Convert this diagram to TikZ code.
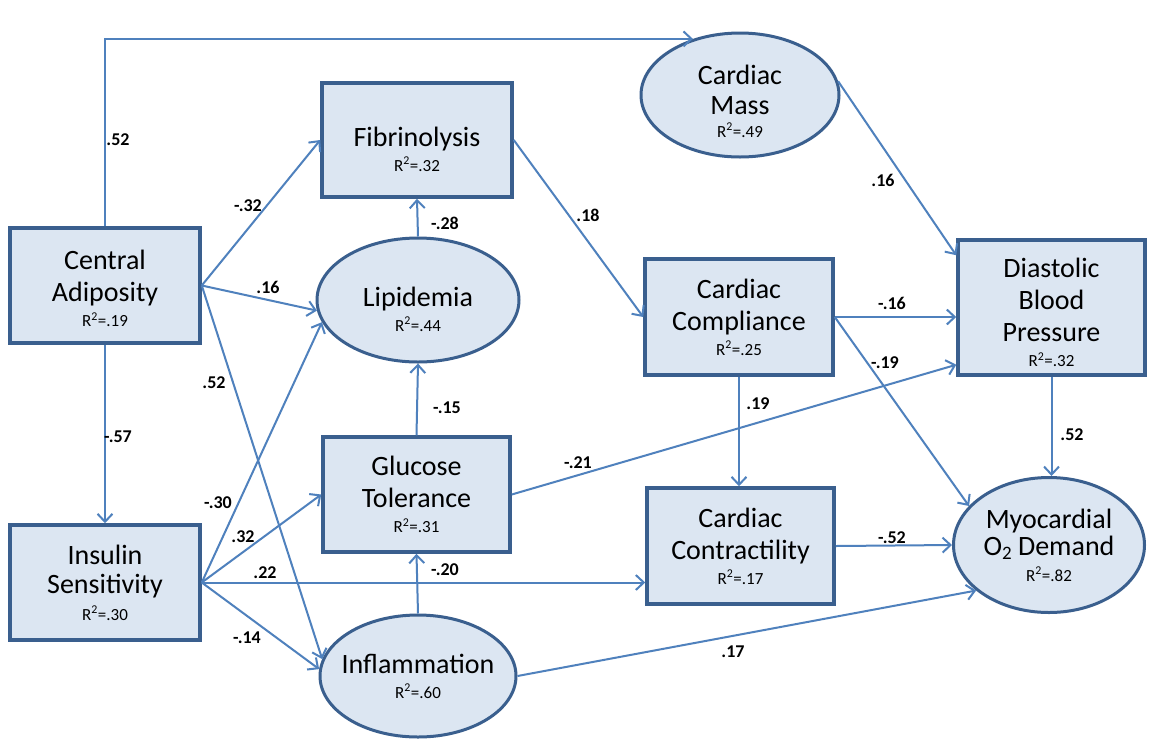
\documentclass[tikz,border=0pt]{standalone}
\usepackage{fontspec}
\setmainfont{Carlito}
\usetikzlibrary{shapes.geometric,arrows.meta,calc}
\definecolor{bordc}{HTML}{3A5F8E}
\definecolor{fillc}{HTML}{DCE6F2}
\definecolor{arrc}{HTML}{4F81BD}
\newcommand\rsqv[1]{{\fontsize{17}{17}\selectfont R\textsuperscript{2}=#1}}
\begin{document}
\begin{tikzpicture}[x=1pt,y=-1pt,
  boxn/.style={draw=bordc, fill=fillc, line width=3.5pt, inner sep=0pt},
  elln/.style={ellipse, draw=bordc, fill=fillc, line width=3pt, inner sep=0pt},
  txt/.style={align=center, font=\fontsize{28}{32}\selectfont, inner sep=0pt},
  arr/.style={draw=arrc, line width=2pt, -{Straight Barb[length=8pt,width=15pt,line width=2pt]}},
  coef/.style={font=\bfseries\fontsize{18}{20}\selectfont, inner sep=0pt}]
\useasboundingbox[fill=white] (0,0) rectangle (1149,740);

% shapes
\node[boxn, minimum width=190, minimum height=115] (ca) at (105,285.5) {};
\node[boxn, minimum width=190, minimum height=115] (ins) at (105,582.5) {};
\node[boxn, minimum width=190, minimum height=114] (fib) at (417,140) {};
\node[boxn, minimum width=187, minimum height=115] (gluc) at (416.5,494.5) {};
\node[boxn, minimum width=188, minimum height=116] (cc) at (739,317) {};
\node[boxn, minimum width=187, minimum height=116] (contr) at (740.5,546) {};
\node[boxn, minimum width=187, minimum height=135] (dbp) at (1051.5,307.5) {};
\node[elln, minimum width=202, minimum height=124] (lip) at (418,300) {};
\node[elln, minimum width=196, minimum height=122] (infl) at (418,676) {};
\node[elln, minimum width=198, minimum height=124] (cm) at (740,95) {};
\node[elln, minimum width=191, minimum height=135] (myo) at (1049,545) {};

% texts
\node[txt, yshift=-3pt] (ca-t) at (ca) {Central\\Adiposity\\[-7pt]\rsqv{.19}};
\node[txt] (ins-t) at (ins) {Insulin\\[-3pt]Sensitivity\\[-5pt]\rsqv{.30}};
\node[txt, yshift=-9pt] (fib-t) at (fib) {Fibrinolysis\\[-7pt]\rsqv{.32}};
\node[txt] (gluc-t) at (gluc) {Glucose\\Tolerance\\[-7pt]\rsqv{.31}};
\node[txt] (cc-t) at (cc) {Cardiac\\Compliance\\[-7pt]\rsqv{.25}};
\node[txt] (contr-t) at (contr) {Cardiac\\Contractility\\[-7pt]\rsqv{.17}};
\node[txt, yshift=-5pt] (dbp-t) at (dbp) {Diastolic\\Blood\\Pressure\\[-7pt]\rsqv{.32}};
\node[txt, yshift=-9pt] (lip-t) at (lip) {Lipidemia\\[-7pt]\rsqv{.44}};
\node[txt] (infl-t) at (infl) {Inflammation\\[-7pt]\rsqv{.60}};
\node[txt, yshift=-6pt] (cm-t) at (cm) {Cardiac\\[-2pt]Mass\\[-9pt]\rsqv{.49}};
\node[txt] (myo-t) at (myo) {Myocardial\\[-5pt]O\raisebox{-0.35ex}{\fontsize{19}{19}\selectfont 2} Demand\\[-6pt]\rsqv{.82}};

% helper coordinates on DBP's left side
\coordinate (dbpin1) at ($(dbp.north west)+(0,17)$);
\coordinate (dbpin3) at ($(dbp.south west)+(0,-12)$);

% connectors
\draw[arr] (ca.north) |- (cm.130);
\draw[arr] (ca.east) -- (fib.west);
\draw[arr] (ca.east) -- (lip.186);
\draw[arr] (ca.east) -- (infl.170);
\draw[arr] (ca.south) -- (ins.north);
\draw[arr] (ins.east) -- (lip.193);
\draw[arr] (ins.east) -- (gluc.west);
\draw[arr] (ins.east) -- (ins.east -| contr.west);
\draw[arr] (ins.east) -- (infl.176);
\draw[arr] (lip.north) -- (fib.south);
\draw[arr] (gluc.north) -- (lip.south);
\draw[arr] (infl.north) -- (gluc.south);
\draw[arr] (fib.east) -- (cc.west);
\draw[arr] (gluc.east) -- (dbpin3);
\draw[arr] (cc.east) -- (cc.east -| dbp.west);
\draw[arr] (cc.east) -- (myo.154);
\draw[arr] (cc.south) -- (cc.south |- contr.north);
\draw[arr] (cm.8) -- (dbpin1);
\draw[arr] (dbp.south) -- (dbp.south |- myo.north);
\draw[arr] (contr.east) -- (myo.west);
\draw[arr] (infl.east) -- (myo.212);

% coefficients
\node[coef] (l1) at (118,140) {.52};
\node[coef] (l2) at (248,206) {-.32};
\node[coef] (l3) at (268,287) {.16};
\node[coef] (l4) at (214,383) {.52};
\node[coef] (l5) at (118,437) {-.57};
\node[coef] (l6) at (218,503) {-.30};
\node[coef] (l7) at (243,537) {.32};
\node[coef] (l8) at (265,573) {.22};
\node[coef] (l9) at (247,638) {-.14};
\node[coef] (l10) at (445,223) {-.28};
\node[coef] (l11) at (447,408) {-.15};
\node[coef] (l12) at (445,570) {-.20};
\node[coef] (l13) at (588,215) {.18};
\node[coef] (l14) at (578,463) {-.21};
\node[coef] (l15) at (892,303) {-.16};
\node[coef] (l16) at (885,363) {-.19};
\node[coef] (l17) at (758,404) {.19};
\node[coef] (l18) at (883,180) {.16};
\node[coef] (l19) at (1072,435) {.52};
\node[coef] (l20) at (892,538) {-.52};
\node[coef] (l21) at (733,652) {.17};
\end{tikzpicture}
\end{document}
